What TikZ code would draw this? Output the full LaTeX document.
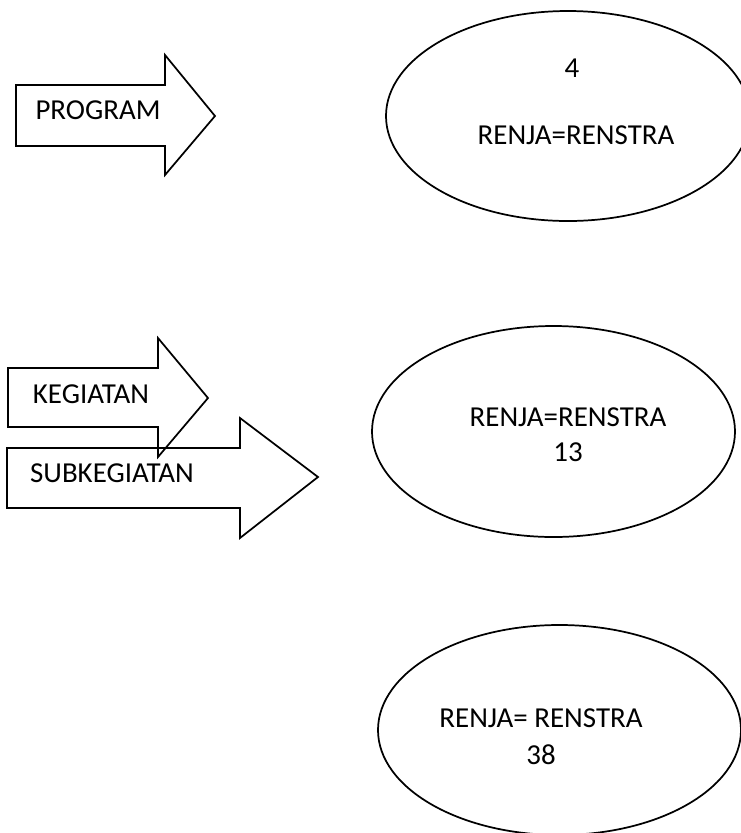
\documentclass[tikz,border=0pt]{standalone}
\usepackage{fontspec}
\setmainfont{Carlito}
\usetikzlibrary{shapes.geometric}
\begin{document}
\begin{tikzpicture}[x=0.75pt,y=-0.75pt,
  shape line/.style={draw=black,line width=1.3pt,line join=miter},
  lbl/.style={inner sep=0pt,font=\fontsize{21.7}{26}\selectfont},
  oval/.style={draw=black,line width=1.3pt}]
\useasboundingbox (0,0) rectangle (741,833);
\clip (0,0) rectangle (741,833);
% arrows
\draw[shape line] (16,85) -- (165,85) -- (165,55) -- (215,116) -- (165,175) -- (165,146) -- (16,146) -- cycle;
\draw[shape line] (8,368) -- (158,368) -- (158,338) -- (208,398) -- (158,457) -- (158,427) -- (8,427) -- cycle;
\draw[shape line] (7,448) -- (240,448) -- (240,418) -- (318,477) -- (240,538) -- (240,508) -- (7,508) -- cycle;
\node[lbl] (prog) at (98,110) {PROGRAM};
\node[lbl] (keg) at (91,394) {KEGIATAN};
\node[lbl] (subkeg) at (112,473) {SUBKEGIATAN};
% ellipses
\draw[oval] (568,116) ellipse [x radius=182, y radius=105];
\draw[oval] (553.5,431.5) ellipse [x radius=181.5, y radius=105.5];
\draw[oval] (559.5,730) ellipse [x radius=181.5, y radius=105];
\node[lbl] (four) at (572,68) {4};
\node[lbl] (r1) at (576,135) {RENJA=RENSTRA};
\node[lbl,align=center,font=\fontsize{21.7}{26.25}\selectfont] (r2) at (568,434.5) {RENJA=RENSTRA\\13};
\node[lbl,align=center,font=\fontsize{21.7}{27.75}\selectfont] (r3) at (541,736.5) {RENJA= RENSTRA\\38};
\end{tikzpicture}
\end{document}
